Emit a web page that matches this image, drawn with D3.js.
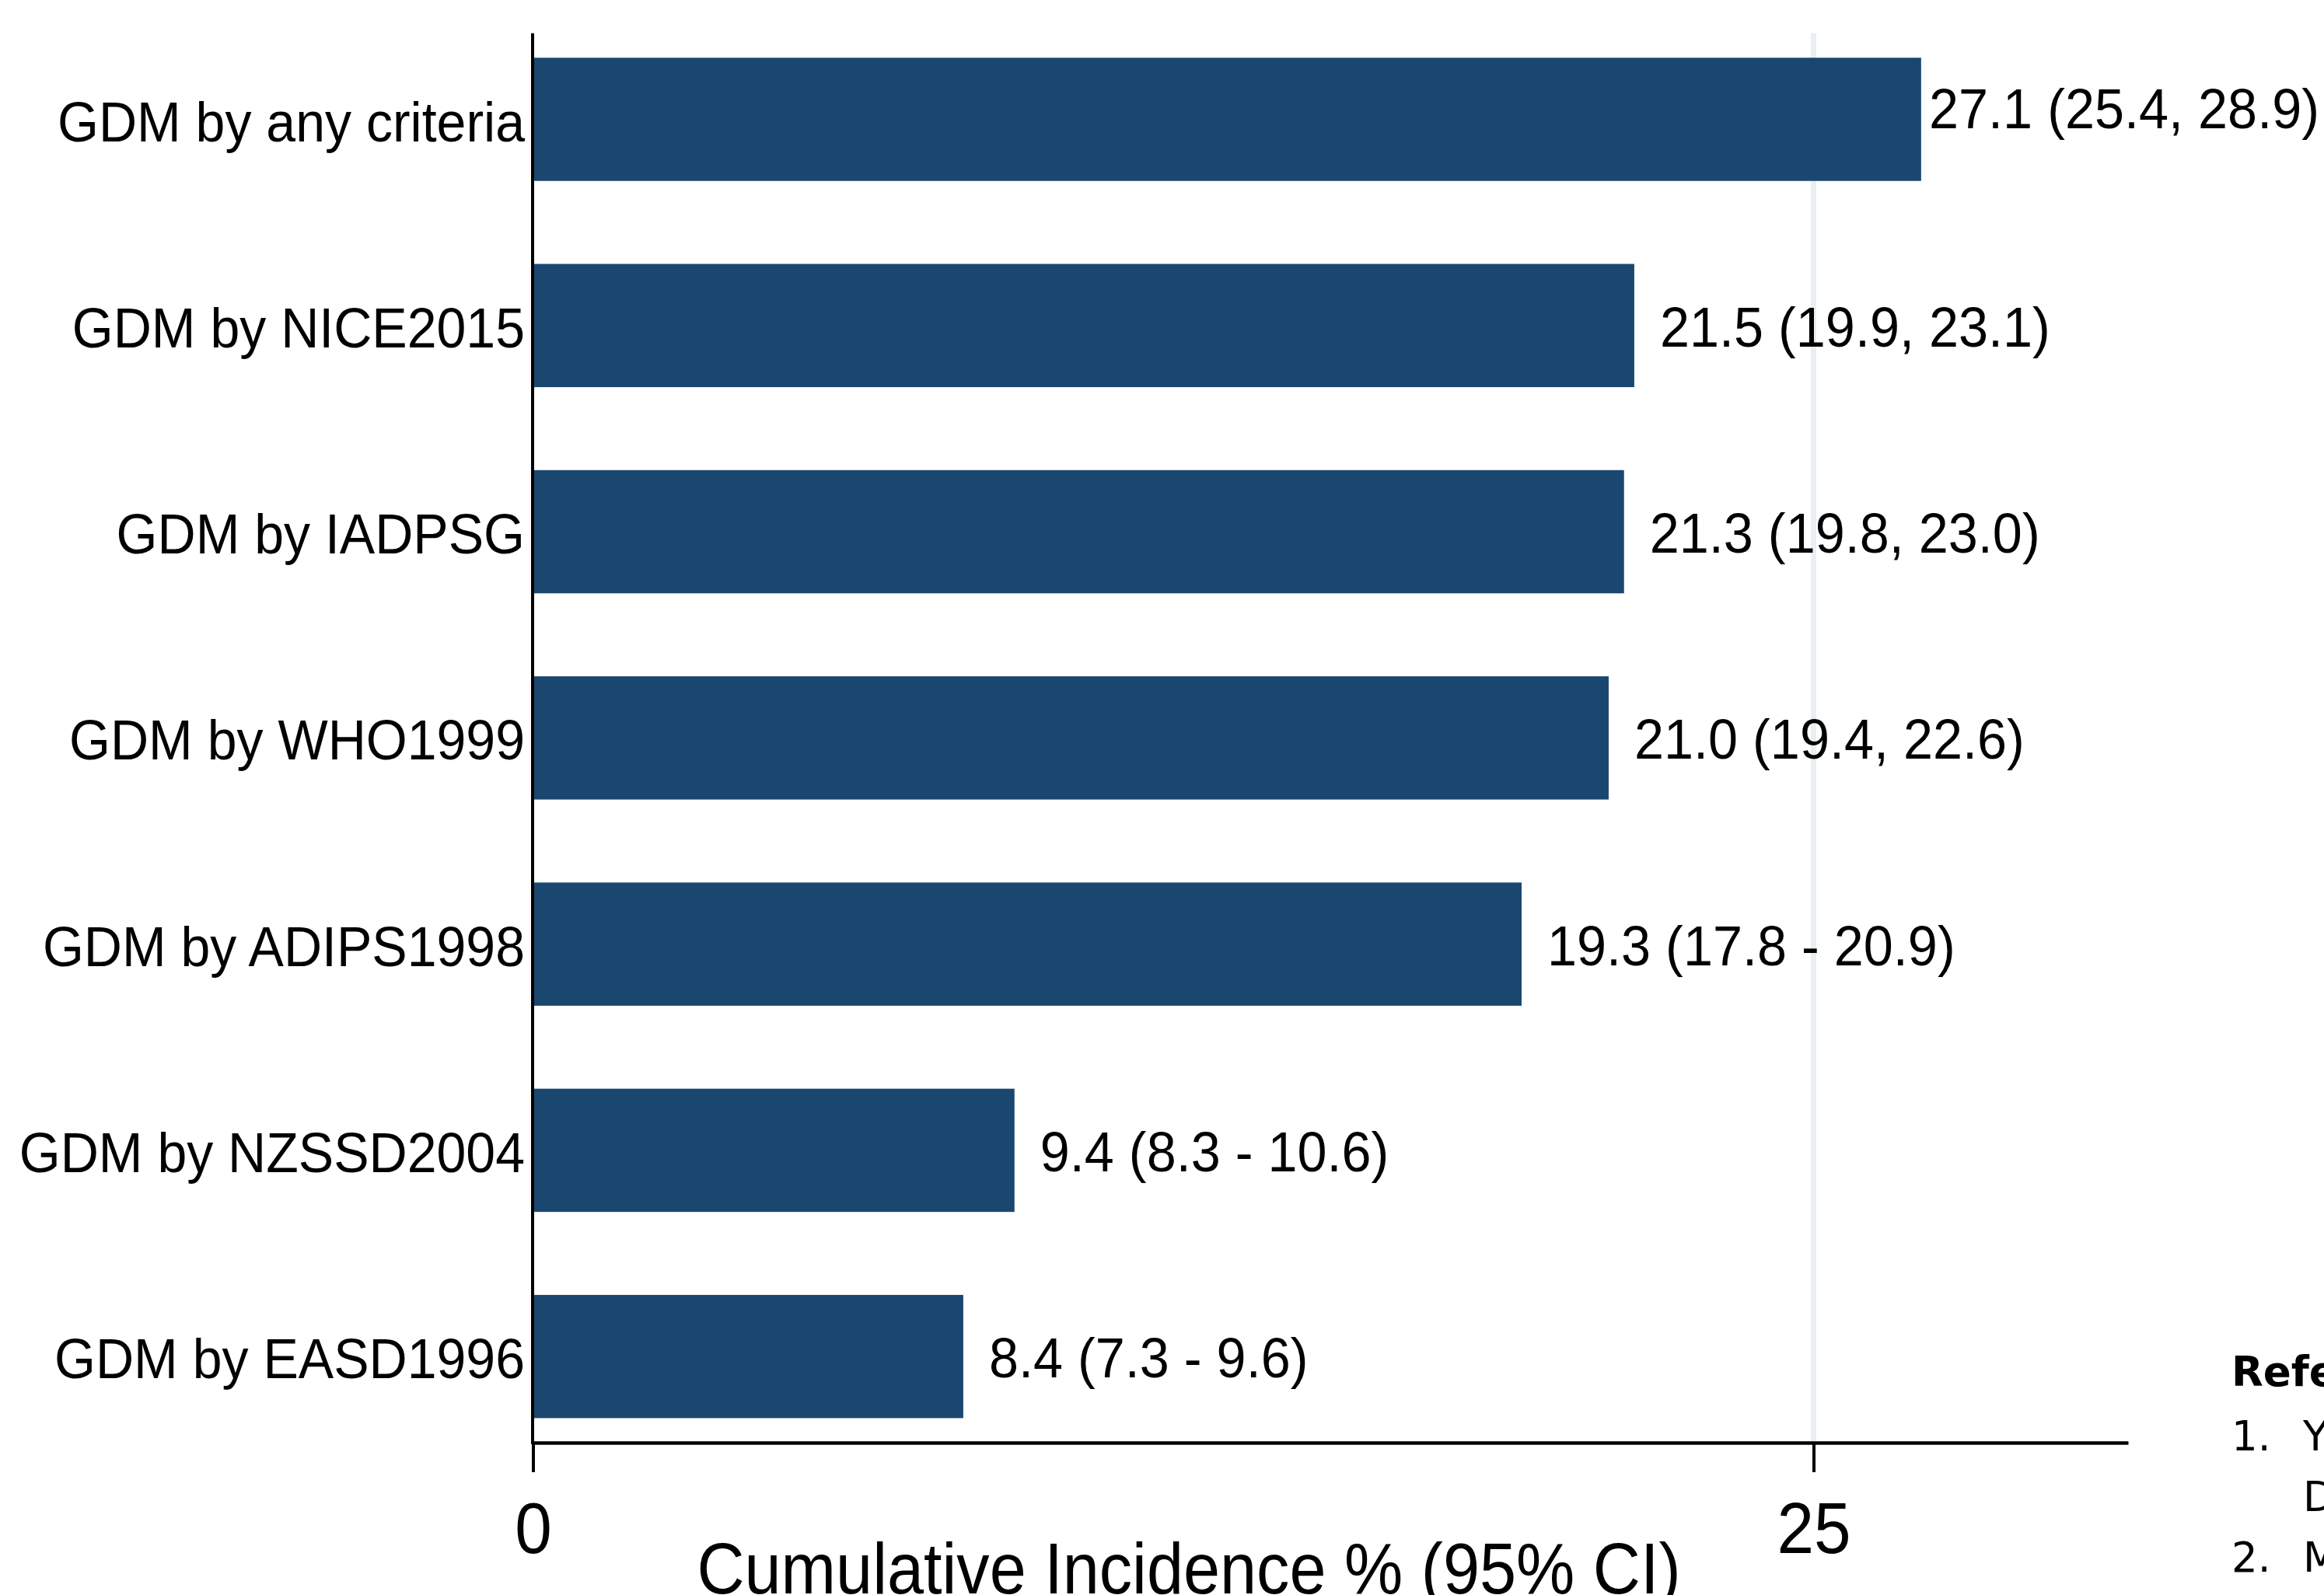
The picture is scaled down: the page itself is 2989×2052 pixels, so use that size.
<!DOCTYPE html>
<html>

<head>
    <script src="https://d3js.org/d3.v7.min.js"></script>
    <style>
        body { margin: 0; background: #fff; }
    </style>
    <script>
        const w = 2989
        const h = 2052
        const categories = ["GDM by any criteria", "GDM by NICE2015", "GDM by IADPSG", "GDM by WHO1999",
            "GDM by ADIPS1998", "GDM by NZSSD2004", "GDM by EASD1996"]
        const incidence = [27.1, 21.5, 21.3, 21.0, 19.3, 9.4, 8.4]
        const valueLabels = ["27.1 (25.4, 28.9)", "21.5 (19.9, 23.1)", "21.3 (19.8, 23.0)", "21.0 (19.4, 22.6)",
            "19.3 (17.8 - 20.9)", "9.4 (8.3 - 10.6)", "8.4 (7.3 - 9.6)"]
        const xTicks = [0, 25]
        const xMax = 31.14
        const xTitle = "Cumulative Incidence % (95% CI)"
        const refHeading = "References"
        const refNumbers = ["1.", "", "2."]
        const refTexts = ["Y", "D", "M"]

        const barColor = "#1a476f"
        const plot = { left: 685.5, right: 2737, top: 42.7, bottom: 1856 }
        const labelFont = "'Liberation Sans', Arial, sans-serif"

        function doSVG() {
            const svg = d3.select("body").append("svg")
                .attr("width", w)
                .attr("height", h)
                .style("display", "block")

            const x = d3.scaleLinear().domain([0, xMax]).range([plot.left, plot.right])
            const y = d3.scaleBand().domain(categories).range([plot.top, plot.bottom])
                .paddingInner(0.4025).paddingOuter(0.119)

            // light gridline at the labelled ticks (0 hides under the axis)
            svg.selectAll(".grid")
                .data(xTicks.filter(t => t > 0))
                .enter().append("line")
                .attr("x1", d => x(d)).attr("x2", d => x(d))
                .attr("y1", plot.top).attr("y2", plot.bottom)
                .attr("stroke", "#e8f0f3")
                .attr("stroke-width", 7)

            svg.selectAll(".bar")
                .data(categories)
                .enter().append("rect")
                .attr("x", x(0))
                .attr("y", d => y(d))
                .attr("width", (d, i) => x(incidence[i]) - x(0))
                .attr("height", y.bandwidth())
                .attr("fill", barColor)

            // value labels, pushed back inside the page if they would run off the right edge
            const vl = svg.selectAll(".vlabel")
                .data(categories)
                .enter().append("text")
                .attr("font-family", labelFont)
                .attr("font-size", 72)
                .attr("fill", "#000")
                .text((d, i) => valueLabels[i])
            vl.each(function (d, i) {
                const tw = this.getComputedTextLength() * 0.95
                let tx = x(incidence[i]) + 33
                let ty = y(d) + y.bandwidth() / 2 + 27
                if (tx + tw > w - 8) { tx = w - 6 - tw; ty -= 16 }
                d3.select(this).attr("transform", `translate(${tx}, ${ty}) scale(0.95, 1)`)
            })

            // category labels
            svg.selectAll(".clabel")
                .data(categories)
                .enter().append("text")
                .attr("font-family", labelFont)
                .attr("font-size", 72)
                .attr("text-anchor", "end")
                .attr("transform", d => `translate(675, ${y(d) + y.bandwidth() / 2 + 28}) scale(0.945, 1)`)
                .text(d => d)

            // x axis
            const xAxis = d3.axisBottom(x).tickValues(xTicks).tickSize(38).tickPadding(38).tickSizeOuter(0)
            const gx = svg.append("g")
                .attr("transform", `translate(0, ${plot.bottom})`)
                .call(xAxis)
            gx.select(".domain").attr("stroke", "#000").attr("stroke-width", 4.5)
            gx.selectAll(".tick line").attr("stroke", "#000").attr("stroke-width", 4)
            gx.selectAll(".tick text")
                .attr("font-family", labelFont)
                .attr("font-size", 93)
                .attr("fill", "#000")
                .attr("transform", "scale(0.92, 1)")

            // y axis line
            svg.append("line")
                .attr("x1", plot.left - 0.5).attr("x2", plot.left - 0.5)
                .attr("y1", plot.top).attr("y2", plot.bottom + 2)
                .attr("stroke", "#000")
                .attr("stroke-width", 4)

            svg.append("text")
                .attr("font-family", labelFont)
                .attr("font-size", 93)
                .attr("text-anchor", "middle")
                .attr("transform", "translate(1529, 2050) scale(0.91, 1)")
                .text(xTitle)

            // references block, cut by the right edge
            const refs = svg.append("g").attr("font-family", "'DejaVu Sans', Verdana, sans-serif")
                .attr("font-size", 53)
            refs.append("text")
                .attr("x", 2870).attr("y", 1783)
                .attr("font-weight", "bold")
                .text(refHeading)
            refNumbers.forEach((n, i) => {
                refs.append("text").attr("x", 2870).attr("y", 1866 + i * 78).text(n)
                refs.append("text").attr("x", 2962).attr("y", 1866 + i * 78).text(refTexts[i])
            })
        }
    </script>
</head>

<body onload="doSVG()">
</body>

</html>
